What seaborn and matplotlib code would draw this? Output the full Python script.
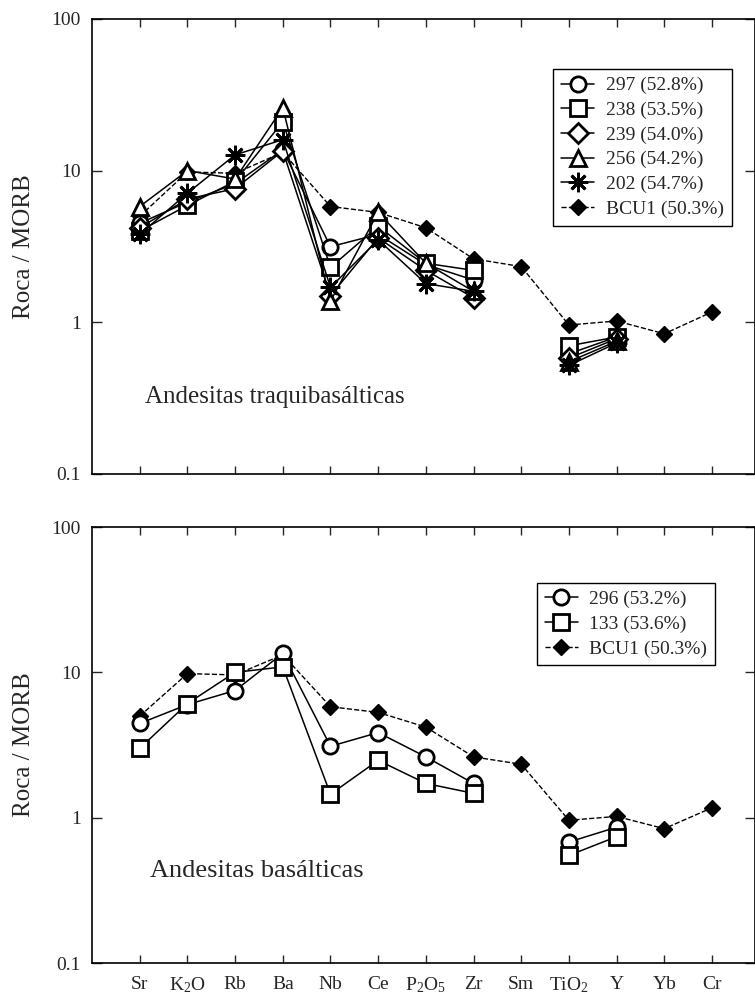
import numpy as np
import pandas as pd
import matplotlib
matplotlib.use("Agg")
import matplotlib.pyplot as plt
import seaborn as sns
from matplotlib.ticker import FixedLocator, FixedFormatter, NullLocator

sns.set_style("ticks")
plt.rcParams["font.family"] = ["Liberation Serif", "DejaVu Serif"]
plt.rcParams["mathtext.fontset"] = "custom"
plt.rcParams["mathtext.rm"] = "Liberation Serif"
plt.rcParams["mathtext.it"] = "Liberation Serif:italic"

# elements (x axis)
elements = ["Sr", "K$_2$O", "Rb", "Ba", "Nb", "Ce", "P$_2$O$_5$", "Zr",
            "Sm", "TiO$_2$", "Y", "Yb", "Cr"]
nan = np.nan

# reference basalt
bcu1 = [5.0, 9.8, 9.6, 13.2, 5.8, 5.3, 4.2, 2.62, 2.33, 0.96, 1.02, 0.84, 1.17]

# Andesitas traquibasálticas
s297 = [4.5, 6.2, 8.2, 13.7, 3.15, 3.8, 2.4, 1.9, nan, 0.62, 0.80, nan, nan]
s238 = [4.0, 5.9, 8.5, 21.0, 2.3, 4.3, 2.45, 2.2, nan, 0.70, 0.80, nan, nan]
s239 = [4.2, 6.5, 7.6, 13.5, 1.5, 3.6, 2.2, 1.45, nan, 0.58, 0.78, nan, nan]
s256 = [5.8, 10.0, 8.8, 26.0, 1.38, 5.3, 2.45, 1.6, nan, 0.55, 0.75, nan, nan]
s202 = [3.8, 7.1, 12.7, 16.0, 1.7, 3.5, 1.8, 1.6, nan, 0.52, 0.73, nan, nan]

# Andesitas basálticas
s296 = [4.45, 6.0, 7.5, 13.5, 3.1, 3.85, 2.62, 1.72, nan, 0.68, 0.86, nan, nan]
s133 = [3.0, 6.1, 10.0, 10.9, 1.45, 2.48, 1.72, 1.47, nan, 0.55, 0.74, nan, nan]

top_series = [
    ("297 (52.8%)", s297, "o"),
    ("238 (53.5%)", s238, "s"),
    ("239 (54.0%)", s239, "D"),
    ("256 (54.2%)", s256, "^"),
    ("202 (54.7%)", s202, (8, 2, 0)),
]
bottom_series = [
    ("296 (53.2%)", s296, "o"),
    ("133 (53.6%)", s133, "s"),
]


def draw(ax, vals, label, marker, ref=False):
    df = pd.DataFrame({"x": range(len(vals)), "y": vals})
    df["seg"] = df["y"].isna().cumsum()
    df = df.dropna()
    first = True
    for _, d in df.groupby("seg"):
        if ref:
            kw = dict(ls="--", lw=1.0, marker="D", ms=8, mfc="black",
                      mec="black", mew=1, zorder=2, dashes=(4, 4))
        else:
            ms = {"o": 11, "s": 12, "D": 10, "^": 11}.get(marker, 14)
            kw = dict(ls="-", lw=1.1, marker=marker, ms=ms, mfc="white",
                      mec="black", mew=2, zorder=3)
        sns.lineplot(data=d, x="x", y="y", ax=ax, color="black",
                     estimator=None, sort=False, legend=False,
                     label=label if first else "_nolegend_", **kw)
        first = False


def style_axis(ax, show_labels):
    ax.set_yscale("log")
    ax.set_ylim(0.1, 100)
    ax.set_xlim(-1, 12.9)
    ax.yaxis.set_major_locator(FixedLocator([0.1, 1, 10, 100]))
    ax.yaxis.set_major_formatter(FixedFormatter(["0.1", "1", "10", "100"]))
    ax.yaxis.set_minor_locator(NullLocator())
    ax.set_xticks(range(len(elements)))
    if show_labels:
        ax.set_xticklabels(elements, fontsize=14)
    else:
        ax.set_xticklabels([])
    ax.set_xlabel("")
    ax.set_ylabel("Roca / MORB", fontsize=18)
    ax.yaxis.set_label_coords(-0.086, 0.5)
    ax.tick_params(axis="y", which="major", direction="in", length=7,
                   width=1, labelsize=14, left=True, right=True, pad=8)
    ax.tick_params(axis="x", which="major", direction="in", length=6,
                   width=1, top=True, bottom=True, pad=9)
    for sp in ax.spines.values():
        sp.set_visible(True)
        sp.set_linewidth(1.2)
        sp.set_color("black")


fig = plt.figure(figsize=(7.55, 9.97), dpi=100)
ax_top = fig.add_axes([0.1219, 0.5246, 0.878, 0.4564])
ax_bot = fig.add_axes([0.1219, 0.0341, 0.878, 0.4373])

for ax, series, show, anchor in [
        (ax_top, top_series, False, (0.965, 0.89)),
        (ax_bot, bottom_series, True, (0.94, 0.872))]:
    draw(ax, bcu1, "BCU1 (50.3%)", "D", ref=True)
    for label, vals, marker in series:
        draw(ax, vals, label, marker)
    style_axis(ax, show)
    handles, labels = ax.get_legend_handles_labels()
    order = list(range(1, len(handles))) + [0]
    leg = ax.legend([handles[i] for i in order], [labels[i] for i in order],
                    loc="upper right", fontsize=14, frameon=True, fancybox=False,
                    edgecolor="black", framealpha=1, handlelength=1.7,
                    handletextpad=0.6, labelspacing=0.36, borderpad=0.4,
                    borderaxespad=0, bbox_to_anchor=anchor)
    leg.get_frame().set_linewidth(1.0)

ax_top.text(0.08, 0.17, "Andesitas traquibasálticas", transform=ax_top.transAxes,
            fontsize=18, va="center", ha="left")
ax_bot.text(0.087, 0.21, "Andesitas basálticas", transform=ax_bot.transAxes,
            fontsize=19, va="center", ha="left")

fig.savefig("out.png", dpi=100)
